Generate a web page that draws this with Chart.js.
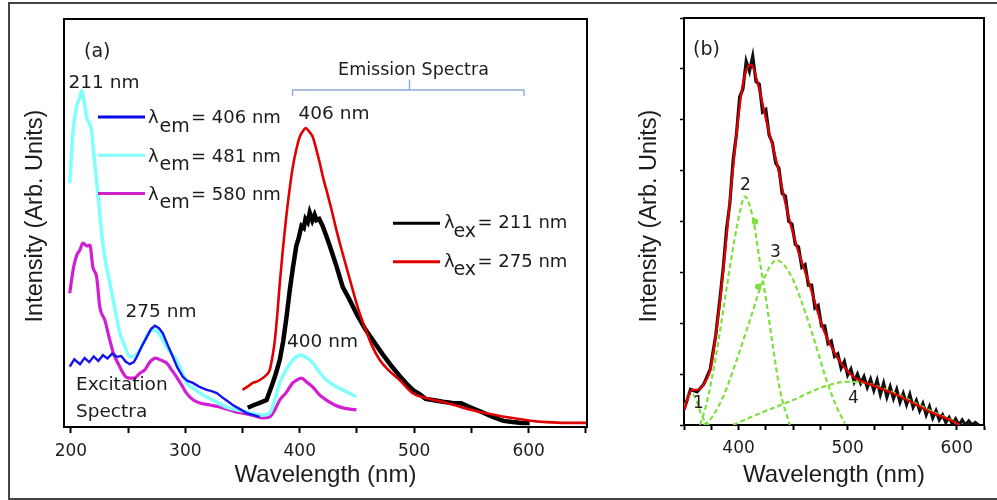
<!DOCTYPE html>
<html>
<head>
<meta charset="utf-8">
<script src="https://cdn.jsdelivr.net/npm/chart.js@4/dist/chart.umd.min.js"></script>
<style>
  html, body { margin: 0; padding: 0; background: #fff; }
  #wrap { position: relative; width: 997px; height: 500px; overflow: hidden; background: #fff; }
  #frame { position: absolute; left: 8px; top: 2px; width: 1010px; height: 498px; box-sizing: border-box;
           border: 2px solid #444; pointer-events: none; }
  #ca { position: absolute; left: 0; top: 0; }
  #cb { position: absolute; left: 620px; top: 0; }
</style>
</head>
<body>
<div id="wrap">
  <canvas id="ca" width="620" height="500"></canvas>
  <canvas id="cb" width="377" height="500"></canvas>
  <div id="frame"></div>
</div>
<script>
// ---------- panel (a): excitation and emission spectra ----------
const tickLabelsA = [200, 300, 400, 500, 600];
const tickLabelsB = [400, 500, 600];

// excitation, monitored at 406 nm
const exc406Wl  = [199, 203, 208, 212, 216, 220, 224, 228, 232, 236, 240, 244, 248, 251.5, 255, 257.6, 262, 266.4, 270, 273.4, 277, 280.3, 284, 289.1, 293, 297.8, 302, 306.6, 312, 318.8, 323, 327.5, 334, 341.5, 347, 353.7, 360, 365];
const exc406Int = [14.8, 16.6, 15.4, 16.9, 15.9, 17.3, 16.2, 17.6, 16.8, 18.0, 17.2, 17.4, 16.0, 15.4, 15.9, 17.2, 19.8, 22.1, 24.0, 24.8, 24.2, 23.0, 20.5, 17.2, 14.6, 12.3, 11.3, 10.8, 9.9, 9.1, 8.8, 8.3, 6.9, 5.4, 4.5, 3.4, 2.9, 2.5];

// excitation, monitored at 481 nm
const exc481Wl  = [199, 202, 205, 207.5, 209.5, 211.5, 213.7, 216, 218, 220, 222.4, 225, 227.5, 230, 234, 238.5, 242.8, 247, 251.5, 256, 260.3, 265, 269, 273.4, 278, 283.6, 288, 292.3, 297, 301, 307, 312.7, 324, 336, 345, 353.4, 360, 367.7, 373.8, 378, 382.5, 388, 393.9, 398, 401.5, 406, 411.4, 417, 423.3, 430, 437.6, 444, 449.5];
const exc481Int = [59.8, 72.8, 78.5, 80.5, 82.5, 80, 76, 74.5, 72.8, 67, 60.5, 53, 46, 41, 35.3, 29, 23, 20, 17.2, 17.5, 18.9, 21.5, 23.5, 23.8, 22.5, 19.6, 18, 16.4, 13.5, 10.8, 9.5, 8.3, 6.6, 4.9, 4.2, 3.7, 3.2, 2.9, 3.4, 6.5, 10.8, 14, 16.4, 17.4, 17.6, 17, 15.7, 13.5, 11.5, 10.2, 9.1, 8.2, 7.4];

// excitation, monitored at 580 nm
const exc580Wl  = [199, 202.4, 205, 207.9, 210.5, 214, 216.6, 219.2, 222.5, 225.3, 229.7, 234, 237.2, 242.8, 248, 251.5, 255.6, 260.3, 264.6, 269, 274, 278.6, 283.6, 288, 292.3, 297, 301, 307, 312.7, 321.4, 330, 343.8, 350.2, 360.7, 367.7, 373.8, 378.2, 382.5, 387.8, 393.9, 397.4, 401.5, 406, 411.4, 417.5, 423.3, 430.6, 437.6, 449.5];
const exc580Int = [32.8, 39.2, 42, 43.4, 45.1, 44.4, 44.6, 39.2, 36.8, 29.4, 26.2, 21.3, 18.1, 14.7, 12.3, 12, 12, 13.2, 14, 15.9, 16.9, 16.4, 15.7, 14, 12.3, 10.2, 8.3, 6.6, 5.9, 5.4, 4.9, 3.7, 3.4, 2.7, 2.2, 2.5, 4.2, 6.6, 8.3, 10.8, 11.5, 12, 11, 9.8, 7.8, 6.6, 5.4, 4.7, 4.2];

// emission, excited at 211 nm
const em211Wl  = [354.6, 360, 365, 371, 376.4, 379, 382.5, 385.5, 388.4, 391.3, 394, 397, 399, 401.5, 403.5, 405, 407, 408.7, 411, 413, 414.6, 417, 420, 423, 426.2, 432, 437.6, 443, 450, 457.6, 465, 472.5, 480, 487.3, 493, 498.7, 505, 510, 516.2, 525, 533.6, 541, 548.5, 558, 568.6, 578, 586, 594, 600.9];
const em211Int = [4.7, 5.4, 5.9, 6.6, 10.8, 13, 16.4, 21, 26.9, 33.6, 39, 44.4, 46.2, 49.3, 48.8, 51, 50.2, 52.5, 50.6, 52, 50.7, 51, 49.3, 47, 44.4, 39.5, 34.3, 31.5, 27.5, 23.8, 20.8, 17.8, 15, 12.5, 10.7, 9.1, 8, 6.9, 6.6, 6.2, 5.9, 5.8, 4.9, 3.8, 2.5, 1.5, 1.2, 1, 1];

// emission, excited at 275 nm
const em275Wl  = [350, 355, 359, 363, 367.7, 371, 373.8, 376, 378.2, 380.5, 382.5, 385.1, 388, 391.3, 393.9, 397, 400, 403, 405.2, 408, 411.4, 414.5, 417.5, 420.5, 423.3, 428, 432, 436.5, 440.8, 446.3, 451, 457.6, 463, 469.9, 478, 487.3, 498.7, 512, 528.4, 542, 557.2, 572, 586, 600, 615.7, 632, 650.7];
const em275Int = [9.1, 10, 10.8, 11.2, 12, 12.8, 14, 17, 21.1, 28, 35, 43.1, 51, 58.6, 63.7, 68, 71.1, 72.6, 73.3, 72.5, 71.1, 68, 64.7, 61, 58.1, 53, 48.3, 43.5, 39.2, 33.6, 29, 23.8, 20, 16.4, 13.8, 11.5, 8.3, 7, 5.9, 4.8, 3.7, 2.9, 2.2, 1.6, 1.2, 1, 1];

// ---------- panel (b): emission band and its Gaussian decomposition ----------
const bandWl  = [350, 356, 362, 368, 374, 379, 383, 386, 389, 392, 395, 398, 401, 404, 407, 410, 413, 416, 419, 422, 425, 428, 431, 434, 437, 440, 443, 446, 449, 452, 455, 458, 461, 464, 467, 470, 473, 476, 479, 482, 485, 488, 491, 494, 497, 500, 503, 506, 509, 512, 515, 518, 521, 524, 527, 530, 533, 536, 539, 542, 545, 548, 551, 554, 557, 560, 563, 566, 569, 572, 575, 578, 581, 584, 587, 590, 593, 596, 599, 602, 605, 608, 611, 614, 617, 620];
const bandInt = [0.3, 0.7, 0.65, 0.8, 1.1, 1.75, 2.5, 3.1, 3.85, 4.35, 5.2, 5.7, 6.45, 6.6, 7.15, 6.95, 7.25, 6.75, 6.7, 6.15, 6.2, 5.7, 5.55, 5.15, 5.05, 4.55, 4.5, 4.0, 3.95, 3.55, 3.5, 3.1, 3.15, 2.75, 2.75, 2.3, 2.35, 1.95, 1.95, 1.6, 1.65, 1.35, 1.4, 1.12, 1.25, 0.98, 1.1, 0.85, 1.0, 0.82, 0.95, 0.74, 0.9, 0.68, 0.88, 0.6, 0.82, 0.55, 0.75, 0.52, 0.7, 0.45, 0.62, 0.4, 0.6, 0.35, 0.48, 0.28, 0.42, 0.2, 0.36, 0.14, 0.28, 0.1, 0.2, 0.05, 0.15, 0.02, 0.12, 0.0, 0.1, 0.0, 0.08, 0.0, 0.05, 0.0];

const fitWl  = [350, 357, 362, 369.6, 374, 378.6, 383.2, 389.3, 393.9, 398.5, 403, 406, 409.2, 411.5, 413.8, 416.5, 419.9, 426, 435.2, 444.3, 453.5, 465.7, 477.9, 490.1, 505.4, 526.8, 548.1, 572.5, 593.9, 603];
const fitInt = [0.29, 0.69, 0.69, 0.85, 1.08, 1.67, 2.46, 3.77, 4.82, 5.80, 6.58, 6.9, 7.06, 7.08, 7.01, 6.8, 6.52, 5.93, 5.14, 4.23, 3.50, 2.72, 1.87, 1.34, 0.95, 0.75, 0.56, 0.29, 0.10, 0];

const peak1Wl  = [350, 354, 358, 362, 366, 370, 373];
const peak1Int = [0.35, 0.55, 0.6, 0.45, 0.2, 0.05, 0];
const peak2Wl  = [364.7, 370.8, 379.7, 389.3, 398.5, 405.9, 413.5, 419.6, 425.7, 431.8, 437.9, 447];
const peak2Int = [0, 0.43, 1.41, 2.72, 3.90, 4.49, 4.03, 3.2, 2.4, 1.5, 0.69, 0];
const peak3Wl  = [368, 373.8, 386, 398.3, 410.4, 422.7, 434.9, 447, 456.2, 468.4, 480.7, 489.8, 497.4];
const peak3Int = [0, 0.10, 0.56, 1.28, 2.06, 2.85, 3.24, 2.98, 2.52, 1.74, 0.88, 0.36, 0.03];
const peak4Wl  = [395, 419.6, 450, 477.6, 499, 517.3, 530, 550, 575, 600];
const peak4Int = [0, 0.23, 0.49, 0.75, 0.85, 0.82, 0.74, 0.56, 0.29, 0.06];
const dotWl  = [415, 418];
const dotInt = [4.0, 2.72];

const peakNames = ['1', '2', '3', '4'];
const excMonitor = [406, 481, 580];
const emExcite = [211, 275];

// ---------- helpers ----------
const pts = (xs, ys) => xs.map((x, i) => ({ x, y: ys[i] }));
const TEXT = '#1c1c1c';
const SANS = '"DejaVu Sans", sans-serif';
const ARIAL = '"Liberation Sans", Arial, sans-serif';
const GREEN = '#7ee03c';

function label(ctx, s, x, y, size, align) {
  ctx.font = size + 'px ' + SANS;
  ctx.textAlign = align || 'left';
  ctx.textBaseline = 'alphabetic';
  ctx.fillStyle = TEXT;
  ctx.fillText(s, x, y);
}

function yTitle(ctx, x, y) {
  ctx.save();
  ctx.translate(x, y);
  ctx.rotate(-Math.PI / 2);
  ctx.font = '23.5px ' + ARIAL;
  ctx.textAlign = 'center';
  ctx.textBaseline = 'middle';
  ctx.fillStyle = TEXT;
  ctx.fillText('Intensity (Arb. Units)', 0, 0);
  ctx.restore();
}

function lambdaRow(ctx, color, x0, x1, y, sub, rest, lx, sx, rx, baseOff, subOff) {
  ctx.strokeStyle = color;
  ctx.lineWidth = 3;
  ctx.beginPath();
  ctx.moveTo(x0, y);
  ctx.lineTo(x1, y);
  ctx.stroke();
  label(ctx, 'λ', lx, y + baseOff, 18);
  label(ctx, sub, sx, y + subOff, 19);
  label(ctx, rest, rx, y + baseOff, 18);
}

function boxTopRight(ctx, a) {
  ctx.strokeStyle = '#000';
  ctx.lineWidth = 2;
  ctx.beginPath();
  ctx.moveTo(a.left - 1, a.top);
  ctx.lineTo(a.right, a.top);
  ctx.lineTo(a.right, a.bottom + 1);
  ctx.stroke();
}

const overlayA = {
  id: 'overlayA',
  afterDatasetsDraw(chart) {
    const { ctx, chartArea: a } = chart;
    const ds = chart.data.datasets;
    ctx.save();
    boxTopRight(ctx, a);
    yTitle(ctx, 36, 216);

    label(ctx, '(a)', 84, 57, 19);
    label(ctx, '211 nm', 104, 88, 18.5, 'center');
    label(ctx, '406 nm', 334, 119, 18.5, 'center');
    label(ctx, '275 nm', 161, 316.7, 18.5, 'center');
    label(ctx, '400 nm', 322.5, 346.7, 18.5, 'center');
    label(ctx, 'Excitation', 76, 390, 18.5);
    label(ctx, 'Spectra', 76, 416.7, 18.5);

    // emission bracket
    label(ctx, 'Emission Spectra', 413.5, 75, 17.5, 'center');
    ctx.strokeStyle = '#8eaadb';
    ctx.lineWidth = 1.4;
    ctx.beginPath();
    ctx.moveTo(292.5, 96);
    ctx.lineTo(292.5, 90);
    ctx.lineTo(524, 90);
    ctx.lineTo(524, 96);
    ctx.moveTo(409.5, 90);
    ctx.lineTo(409.5, 79.5);
    ctx.stroke();

    // excitation legend
    excMonitor.forEach((nm, i) => {
      lambdaRow(ctx, ds[i].legendColor, 98, 145, 117 + i * 38.2, 'em', '= ' + nm + ' nm', 148, 159.5, 191, 6.3, 14.7);
    });
    // emission legend
    emExcite.forEach((nm, i) => {
      const d = ds[3 + i];
      lambdaRow(ctx, d.legendColor, 393, 440, 223.3 + i * 38.4, 'ex', '= ' + nm + ' nm', 444, 453.5, 477.5, 5, 13.4);
    });
    ctx.restore();
  }
};

const overlayB = {
  id: 'overlayB',
  afterDatasetsDraw(chart) {
    const { ctx, chartArea: a } = chart;
    ctx.save();
    boxTopRight(ctx, a);
    yTitle(ctx, 29.5, 216);
    label(ctx, '(b)', 73, 55, 19);
    const spots = [[73, 408], [120, 190], [150, 256.7], [228, 403]];
    peakNames.forEach((n, i) => label(ctx, n, spots[i][0], spots[i][1], 17));
    ctx.restore();
  }
};

function xAxis(min, max, step, shown, tickLen, pad) {
  return {
    type: 'linear', min, max,
    afterFit: s => { s.height = pad.height; },
    ticks: {
      stepSize: step, includeBounds: false, autoSkip: false, maxRotation: 0,
      padding: pad.tick,
      font: { family: SANS, size: 17 }, color: TEXT,
      callback: v => (shown.includes(v) ? String(v) : '')
    },
    grid: { display: true, drawOnChartArea: false, drawTicks: true, tickLength: tickLen, tickWidth: 2, tickColor: '#000' },
    border: { display: true, color: '#000', width: 2 },
    title: { display: true, text: 'Wavelength (nm)', color: TEXT,
             font: { family: ARIAL, size: 24 }, padding: { top: 0, bottom: pad.title } }
  };
}

const line = (data, color, width, order, smooth, extra) => Object.assign({
  data, borderColor: color, backgroundColor: color, borderWidth: width, order,
  pointRadius: 0, fill: false,
  cubicInterpolationMode: smooth ? 'monotone' : 'default', tension: 0
}, extra || {});

// ---------- chart (a) ----------
new Chart(document.getElementById('ca'), {
  type: 'line',
  data: {
    datasets: [
      line(pts(exc406Wl, exc406Int), '#1414f0', 2.4, 3, false, { label: 'λem = 406 nm', legendColor: '#0a0ae6' }),
      line(pts(exc481Wl, exc481Int), '#80ffff', 3.5, 4, true,  { label: 'λem = 481 nm', legendColor: '#80ffff' }),
      line(pts(exc580Wl, exc580Int), '#d21ed2', 3.2, 5, true,  { label: 'λem = 580 nm', legendColor: '#cc22cc' }),
      line(pts(em211Wl, em211Int),   '#000000', 4.5, 2, false, { label: 'λex = 211 nm', legendColor: '#000000' }),
      line(pts(em275Wl, em275Int),   '#e00000', 2.6, 1, true,  { label: 'λex = 275 nm', legendColor: '#e00000' })
    ]
  },
  options: {
    responsive: false, animation: false, devicePixelRatio: 1,
    layout: { padding: { left: 0, top: 19, right: 33, bottom: 0 } },
    scales: {
      x: xAxis(194, 651, 50, tickLabelsA, 6, { height: 73, tick: 8.5, title: 10 }),
      y: {
        min: 0, max: 100,
        afterFit: s => { s.width = 64; },
        ticks: { display: false },
        grid: { display: false },
        border: { display: true, color: '#000', width: 2 }
      }
    },
    plugins: { legend: { display: false }, tooltip: { enabled: false } }
  },
  plugins: [overlayA]
});

// ---------- chart (b) ----------
const dashed = { borderDash: [5, 3] };
new Chart(document.getElementById('cb'), {
  type: 'line',
  data: {
    datasets: [
      line(pts(bandWl, bandInt), '#111111', 3.2, 4, false, { label: 'measured' }),
      line(pts(peak1Wl, peak1Int), GREEN, 2.2, 3, true, Object.assign({ label: 'peak 1' }, dashed)),
      line(pts(peak2Wl, peak2Int), GREEN, 2.2, 3, true, Object.assign({ label: 'peak 2' }, dashed)),
      line(pts(peak3Wl, peak3Int), GREEN, 2.2, 3, true, Object.assign({ label: 'peak 3' }, dashed)),
      line(pts(peak4Wl, peak4Int), GREEN, 2.2, 3, true, Object.assign({ label: 'peak 4' }, dashed)),
      line(pts(dotWl, dotInt), GREEN, 0, 2, false, { label: 'marks', showLine: false, pointRadius: 3.2, pointBorderWidth: 0 }),
      line(pts(fitWl, fitInt), '#e00000', 2.3, 1, true, { label: 'fit' })
    ]
  },
  options: {
    responsive: false, animation: false, devicePixelRatio: 1,
    layout: { padding: { left: 0, top: 18, right: 13, bottom: 0 } },
    scales: {
      x: xAxis(350, 625, 25, tickLabelsB, 5, { height: 75, tick: 8, title: 10 }),
      y: {
        min: 0, max: 8,
        afterFit: s => { s.width = 64; },
        ticks: { display: false, stepSize: 1 },
        grid: { display: true, drawOnChartArea: false, drawTicks: true, tickLength: 4, tickWidth: 1.5, tickColor: '#000' },
        border: { display: true, color: '#000', width: 2 }
      }
    },
    plugins: { legend: { display: false }, tooltip: { enabled: false } }
  },
  plugins: [overlayB]
});
</script>
</body>
</html>
